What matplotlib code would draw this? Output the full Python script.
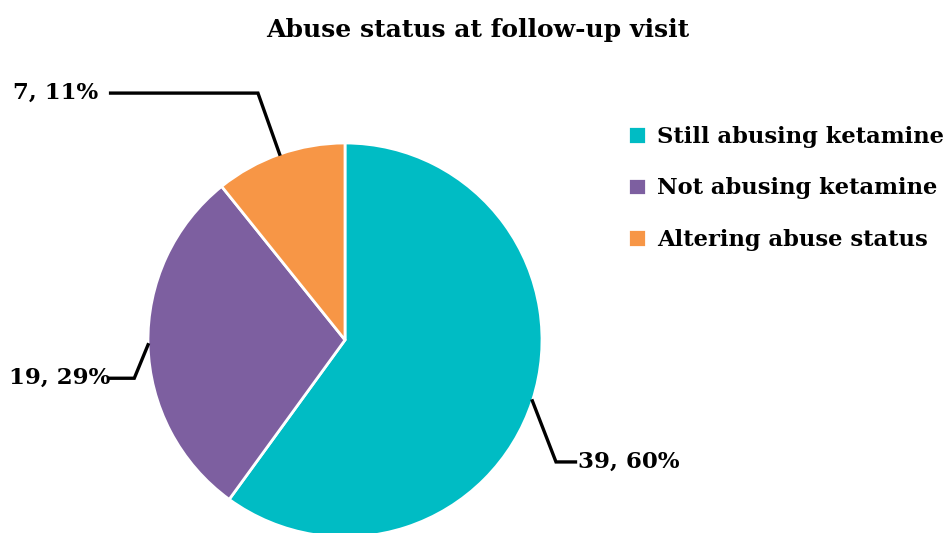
import numpy as np
import matplotlib
matplotlib.use("Agg")
import matplotlib.pyplot as plt

# abuse status at follow-up (counts)
categories = ["Still abusing ketamine", "Not abusing ketamine", "Altering abuse status"]
counts = [39, 19, 7]
percents = [60, 29, 11]
colors = ["#00BCC4", "#7D5FA0", "#F79646"]

plt.rcParams["font.family"] = ["DejaVu Serif"]
plt.rcParams["font.weight"] = "bold"

W, H = 946, 533
fig = plt.figure(figsize=(W / 100, H / 100), dpi=100)
R = 197
cx, cy = 345, 340
ax = fig.add_axes([(cx - R) / W, (H - cy - R) / H, 2 * R / W, 2 * R / H])

wedges, _ = ax.pie(counts, colors=colors, startangle=90, counterclock=False,
                   radius=1, wedgeprops=dict(edgecolor="white", linewidth=2))
ax.set_xlim(-1, 1)
ax.set_ylim(-1, 1)
ax.set_aspect("equal")
ax.axis("off")

# leader lines: anchor at wedge mid-angle, then an elbow, then horizontal to the label
# (dx, dy, line end x, gap before text)
elbows = [(0.12, -0.31, 1.17, 0.015), (-0.07, -0.17, -1.19, 0.0), (-0.11, 0.31, -1.19, 0.065)]
for w, n, p, (ex, ey, endx, gap) in zip(wedges, counts, percents, elbows):
    ang = np.deg2rad((w.theta1 + w.theta2) / 2)
    x0, y0 = np.cos(ang), np.sin(ang)
    x1, y1 = x0 + ex, y0 + ey
    ax.plot([x0, x1, endx], [y0, y1, y1], color="black", lw=2.4,
            clip_on=False, solid_joinstyle="miter")
    ha = "left" if endx > 0 else "right"
    tx = endx + (gap if endx > 0 else -gap)
    ax.text(tx, y1, f"{n}, {p}%", ha=ha, va="center", fontsize=16.5,
            fontweight="bold", clip_on=False)

fig.text(0.505, 0.943, "Abuse status at follow-up visit", ha="center",
         va="center", fontsize=18, fontweight="bold")

fig.legend(wedges, categories, loc="upper left", bbox_to_anchor=(628 / W, 1 - 126 / H),
           frameon=False, fontsize=16.3, handlelength=0.8, handleheight=0.8,
           handletextpad=0.5, labelspacing=1.3, borderpad=0, borderaxespad=0)

fig.savefig("out.png", dpi=100)
